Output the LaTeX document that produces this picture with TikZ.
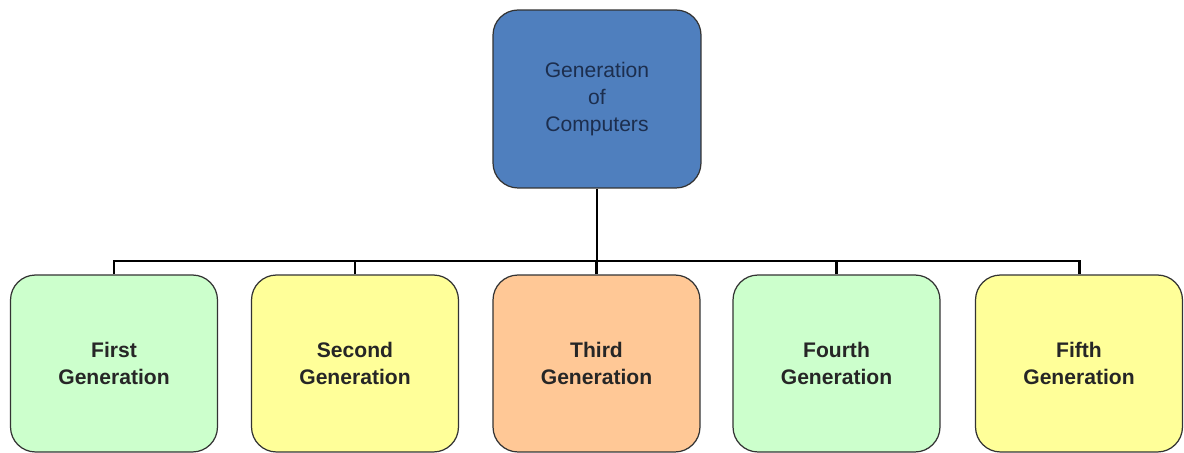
\documentclass[tikz,border=0pt]{standalone}
\usepackage{fontspec}
\setmainfont{Liberation Sans}
\usepackage{tikz}
\usetikzlibrary{calc}
\definecolor{topblue}{HTML}{4F7FBE}
\definecolor{topink}{HTML}{1C2E4E}
\definecolor{genGreen}{HTML}{CCFFCC}
\definecolor{genYellow}{HTML}{FFFF99}
\definecolor{genOrange}{HTML}{FFC896}
\definecolor{edge}{HTML}{333333}
\tikzset{
	genbox/.style={draw=edge, line width=0.7pt, rounded corners=0.5cm, minimum width=4.14cm, minimum height=3.54cm, align=center, font=\fontsize{12}{15}\selectfont\bfseries, text=black!85},
	conn/.style={line width=1.7pt, black}
}

\begin{document}
\begin{tikzpicture}[x=0.02cm, y=0.02cm]
				\useasboundingbox[fill=white] (0,0) rectangle (1184,453);
				
				\node[genbox, fill=topblue, minimum width=4.16cm, minimum height=3.56cm, font=\fontsize{12}{15.3}\selectfont, text=topink] (top) at (597,354) {Generation\\of\\Computers};
				
				\node[genbox, fill=genGreen] (first) at (114,89.5) {First\\Generation};
				\node[genbox, fill=genYellow] (second) at (355,89.5) {Second\\Generation};
				\node[genbox, fill=genOrange] (third) at (596.5,89.5) {Third\\Generation};
				\node[genbox, fill=genGreen] (fourth) at (836.5,89.5) {Fourth\\Generation};
				\node[genbox, fill=genYellow] (fifth) at (1079,89.5) {Fifth\\Generation};
				
				\coordinate (bus) at (597,192);
				\draw[conn] (top.south) -- (bus);
				\draw[conn] (first.north) |- (fifth.north |- bus) -- (fifth.north);
				\foreach \g in {second,third,fourth}
					\draw[conn] (\g.north) -- (\g.north |- bus);
			\end{tikzpicture}
\end{document}
